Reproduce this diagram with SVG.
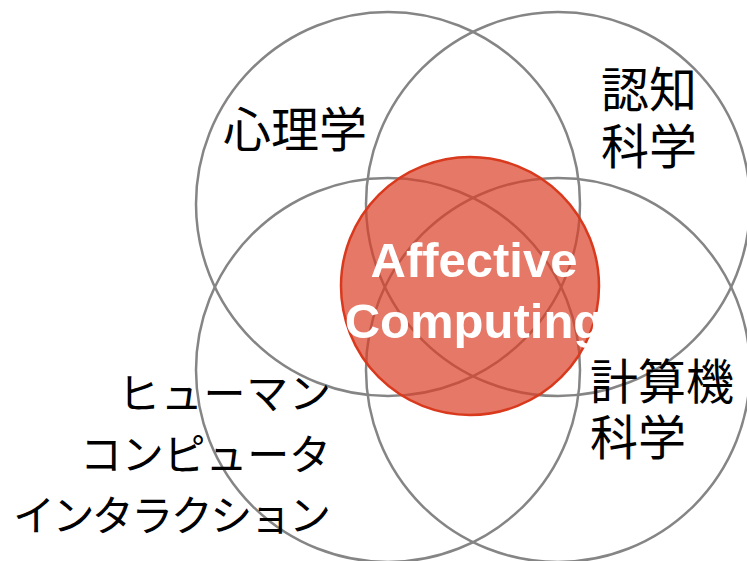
<svg xmlns="http://www.w3.org/2000/svg" width="747" height="561" viewBox="0 0 747 561">
  <defs>
    <style>
      .ring { fill: none; stroke: #858585; stroke-width: 2.5; }
      .core { fill: #da3e26; fill-opacity: 0.7; stroke: #d9391c; stroke-width: 2.5; }
      .jp { font-family: "Noto Sans CJK JP", "Noto Sans", sans-serif; fill: #000000; }
      .core-label { font-family: "Liberation Sans", Arial, sans-serif; font-weight: bold; font-size: 49px; fill: #ffffff; text-anchor: middle; }
    </style>
    <clipPath id="coreClip">
      <rect x="341" y="150" width="258" height="270"/>
    </clipPath>
  </defs>
  <rect x="0" y="0" width="747" height="561" fill="#ffffff"/>
  <g id="psychology">
    <circle class="ring" cx="388" cy="204" r="192"/>
    <text class="jp" x="223" y="147" font-size="48">心理学</text>
  </g>
  <g id="cognitive-science">
    <circle class="ring" cx="558" cy="204" r="192"/>
    <text class="jp" font-size="48"><tspan x="601" y="107">認知</tspan><tspan x="601" y="164">科学</tspan></text>
  </g>
  <g id="hci">
    <circle class="ring" cx="388" cy="370" r="192"/>
    <text class="jp" font-size="42"><tspan x="118" y="409" textLength="213" lengthAdjust="spacing">ヒューマン</tspan><tspan x="80" y="470" textLength="251" lengthAdjust="spacing">コンピュータ</tspan><tspan x="13" y="531" textLength="318" lengthAdjust="spacing">インタラクション</tspan></text>
  </g>
  <g id="computer-science">
    <circle class="ring" cx="558" cy="370" r="192"/>
    <text class="jp" font-size="48"><tspan x="590" y="399">計算機</tspan><tspan x="590" y="455">科学</tspan></text>
  </g>
  <g id="affective-computing">
    <circle class="core" cx="470" cy="286" r="129"/>
    <g clip-path="url(#coreClip)">
      <text class="core-label" x="474" y="277">Affective</text>
      <text class="core-label" x="474" y="338">Computing</text>
    </g>
  </g>
</svg>
